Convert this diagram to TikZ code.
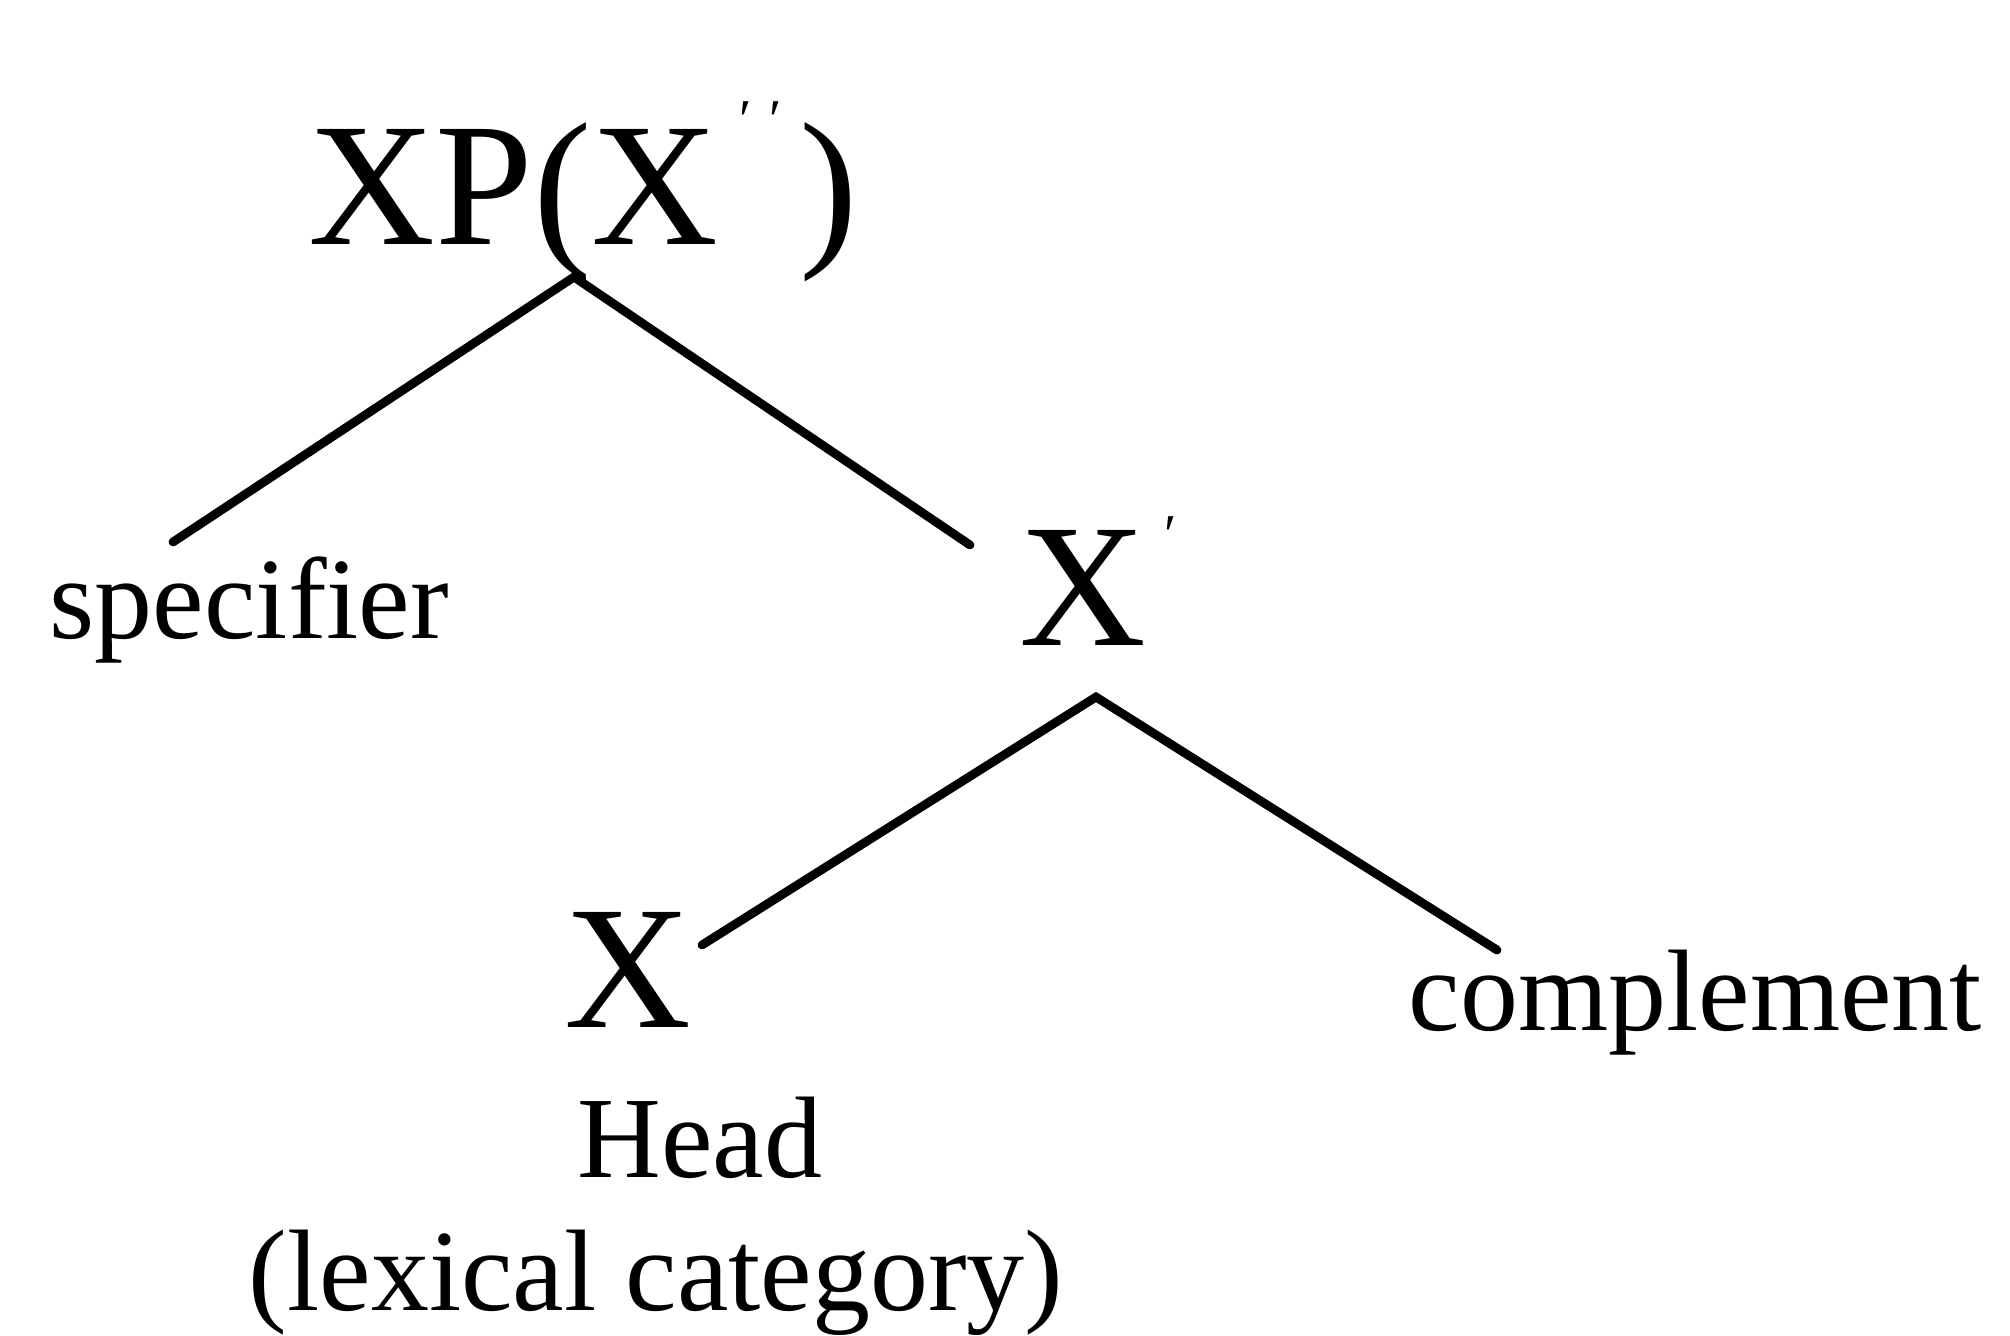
\documentclass[tikz,border=0pt]{standalone}
\usepackage{fontspec}
\setmainfont{Liberation Serif}
\tikzset{branch/.style={line width=2.5pt,line cap=round},cat/.style={anchor=base west,inner sep=0pt,font=\fontsize{50}{54}\selectfont},gloss/.style={anchor=base west,inner sep=0pt,font=\fontsize{33}{36}\selectfont}}
\newcommand{\barmark}[1]{\raisebox{#1}{\fontsize{16}{16}\selectfont ′}}

\begin{document}
\begin{tikzpicture}[x=0.1mm,y=-0.1mm]
\path[use as bounding box] (0,0) rectangle (2010,1335);
\node[cat] (xp) at (308,244) {XP(X\kern6pt\barmark{30pt}\kern5pt\barmark{30pt}\kern5pt)};
\node[gloss] (spec) at (49,638) {specifier};
\node[cat] (xbar) at (1019,645) {X\kern5pt\barmark{26pt}};
\node[cat] (head) at (564,1027) {X};
\node[gloss] (comp) at (1408,1030) {complement};
\node[gloss] (headlbl) at (577,1177) {Head};
\node[gloss] (lexcat) at (248,1310) {(lexical category)};
\coordinate (xp-fork) at (574,277);
\coordinate (spec-top) at (173,542);
\coordinate (xbar-left) at (970,545);
\coordinate (xbar-fork) at (1096,697);
\coordinate (head-top) at (702,945);
\coordinate (comp-top) at (1497,950);
\draw[branch] (spec-top) -- (xp-fork) -- (xbar-left);
\draw[branch] (head-top) -- (xbar-fork) -- (comp-top);
\end{tikzpicture}
\end{document}
